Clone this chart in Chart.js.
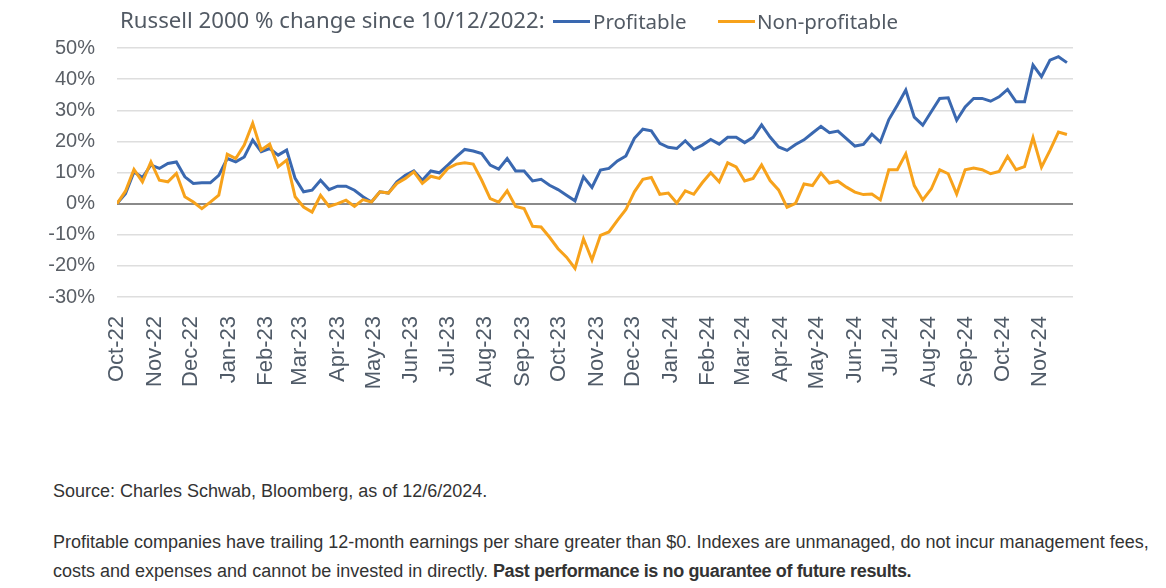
<!DOCTYPE html>
<html>
<head>
<meta charset="utf-8">
<script src="https://cdn.jsdelivr.net/npm/chart.js@4.4.1/dist/chart.umd.min.js"></script>
<style>
  html, body { margin: 0; padding: 0; background: #ffffff; }
  body { width: 1166px; height: 588px; position: relative; overflow: hidden; }
  #wrap { position: absolute; left: 0; top: 0; width: 1166px; height: 400px; }
  .hdr { position: absolute; top: 8px; font-family: "Noto Sans", sans-serif; font-size: 20.5px; color: #525a64; white-space: nowrap; line-height: 26px; }
  .dash { position: absolute; top: 20px; height: 3px; width: 37px; }
  .note { position: absolute; left: 53px; font-family: "Liberation Sans", Arial, sans-serif; font-size: 18px; color: #333333; white-space: nowrap; line-height: 29px; }
  .note b { letter-spacing: -0.37px; }
</style>
</head>
<body>
<div id="wrap"><canvas id="c" width="1166" height="400"></canvas></div>
<div class="hdr" id="ttl" style="left:120px;font-size:22.2px;top:7px">Russell 2000 % change since 10/12/2022:</div>
<div class="dash" style="left:553px;background:#3a68b0"></div>
<div class="hdr" id="lg1" style="left:593px">Profitable</div>
<div class="dash" style="left:718px;background:#f7a21b"></div>
<div class="hdr" id="lg2" style="left:757px">Non-profitable</div>
<div class="note" style="top:477px">Source: Charles Schwab, Bloomberg, as of 12/6/2024.</div>
<div class="note" style="top:528px">Profitable companies have trailing 12-month earnings per share greater than $0. Indexes are unmanaged, do not incur management fees,<br>costs and expenses and cannot be invested in directly. <b>Past performance is no guarantee of future results.</b></div>
<script>
// Weekly observations starting 10/12/2022
const startDate = [2022, 9, 12];
const stepDays = 7;

const profitable = [0, 3.2, 10.2, 8.4, 12.4, 11.3, 12.9, 13.4, 8.6, 6.5,
  6.7, 6.7, 9.1, 14.5, 13.4, 15, 20.4, 16.7, 17.7, 15.6,
  17.2, 8.1, 3.8, 4.3, 7.5, 4.5, 5.6, 5.6, 4.3, 2.2,
  0.5, 3.8, 3.4, 7, 9.1, 10.5, 7.5, 10.5, 9.9,
  12.4, 15, 17.4, 16.9, 16.1, 12.4, 11.1, 14.5, 10.5, 10.5,
  7.3, 7.8, 5.9, 4.5, 2.7, 0.9, 8.6, 5.2, 10.8, 11.3,
  13.7, 15.3, 21, 23.9, 23.4, 19.4, 18.1, 17.7, 20.2, 17.4,
  18.8, 20.6, 19.1, 21.3, 21.3, 19.6, 21.3, 25.3,
  21.4, 18.2, 17.1, 19, 20.5, 22.7, 24.8, 22.8, 23.3, 20.9,
  18.5, 19, 22.3, 19.8, 27, 31.6, 36.5, 27.8, 25.2, 29.5,
  33.8, 34, 26.8, 31.1, 33.8, 33.8, 32.9, 34.3, 36.7, 32.7,
  32.7, 44.5, 40.8, 46.1, 47.2, 45.3];

const nonProfitable = [0, 4, 11, 7, 13.4, 7.5, 7, 9.7, 2.2, 0.5,
  -1.6, 0.5, 2.7, 15.9, 14.5, 18.8, 25.8, 17.2, 19.1, 11.8,
  14, 2.2, -1.1, -2.7, 2.7, -0.9, 0, 1.1, -0.9, 1.3,
  0.5, 3.8, 3.4, 6.5, 8.1, 10.2, 6.5, 8.8, 8.1,
  11.3, 12.7, 13.1, 12.7, 7.5, 1.6, 0.5, 4.1, -0.9, -1.6,
  -7.3, -7.5, -10.8, -14.5, -17.2, -20.8, -11.3, -18.1, -10.2, -9.1,
  -5.4, -1.9, 3.8, 7.8, 8.4, 3, 3.4, 0.2, 4.1, 3,
  6.7, 9.9, 7, 13.1, 11.8, 7.3, 8.1, 12.4,
  7.4, 4.4, -1.2, 0.1, 6.3, 5.8, 9.8, 6.6, 7.2, 5.3,
  3.7, 2.9, 3.1, 1.2, 10.9, 10.9, 16, 5.8, 1.2, 4.7,
  10.9, 9.6, 3.1, 10.9, 11.4, 10.9, 9.6, 10.3, 15.2, 10.9,
  11.9, 21.2, 11.7, 17.1, 23, 22.2];

const monthLabels = ['Oct-22','Nov-22','Dec-22','Jan-23','Feb-23','Mar-23','Apr-23','May-23',
  'Jun-23','Jul-23','Aug-23','Sep-23','Oct-23','Nov-23','Dec-23','Jan-24','Feb-24','Mar-24',
  'Apr-24','May-24','Jun-24','Jul-24','Aug-24','Sep-24','Oct-24','Nov-24'];

const yMin = -30, yMax = 50, yStep = 10;

const t0 = Date.UTC(startDate[0], startDate[1], startDate[2]);
const dayMs = 86400000;
// x = days since start date
const toPts = arr => arr.map((v, i) => ({ x: i * stepDays, y: v }));
const monthTickDays = monthLabels.map((l, m) => (Date.UTC(startDate[0], startDate[1] + m, startDate[2]) - t0) / dayMs);
const xMaxDays = (profitable.length - 1) * stepDays + 5;

const tickColor = '#505b68';

new Chart(document.getElementById('c'), {
  type: 'line',
  data: {
    datasets: [
      { label: 'Profitable', data: toPts(profitable), borderColor: '#3a68b0', backgroundColor: '#3a68b0',
        borderWidth: 3, pointRadius: 0, tension: 0, order: 2 },
      { label: 'Non-profitable', data: toPts(nonProfitable), borderColor: '#f7a21b', backgroundColor: '#f7a21b',
        borderWidth: 3, pointRadius: 0, tension: 0, order: 1 }
    ]
  },
  options: {
    responsive: false,
    animation: false,
    layout: { padding: { top: 48, right: 93, bottom: 0, left: 0 } },
    plugins: { legend: { display: false }, tooltip: { enabled: false } },
    scales: {
      x: {
        type: 'linear',
        min: 0,
        max: xMaxDays,
        grid: { display: false },
        border: { display: false },
        afterBuildTicks: s => { s.ticks = monthTickDays.map(v => ({ value: v })); },
        afterFit: s => { s.height = 103; },
        ticks: {
          autoSkip: false,
          minRotation: 90,
          maxRotation: 90,
          padding: 11,
          color: tickColor,
          font: { family: '"Liberation Sans", Arial, sans-serif', size: 22 },
          callback: (v, i) => monthLabels[i]
        }
      },
      y: {
        min: yMin,
        max: yMax,
        border: { display: false },
        afterFit: s => { s.width = 117; },
        grid: {
          drawTicks: false,
          color: c => c.tick && c.tick.value === 0 ? '#8a8a8a' : '#dedede',
          lineWidth: c => c.tick && c.tick.value === 0 ? 2 : 1.5
        },
        ticks: {
          stepSize: yStep,
          padding: 22,
          color: '#5a5f66',
          font: { family: '"Liberation Sans", Arial, sans-serif', size: 20 },
          callback: v => v + '%'
        }
      }
    }
  }
});
</script>
</body>
</html>
